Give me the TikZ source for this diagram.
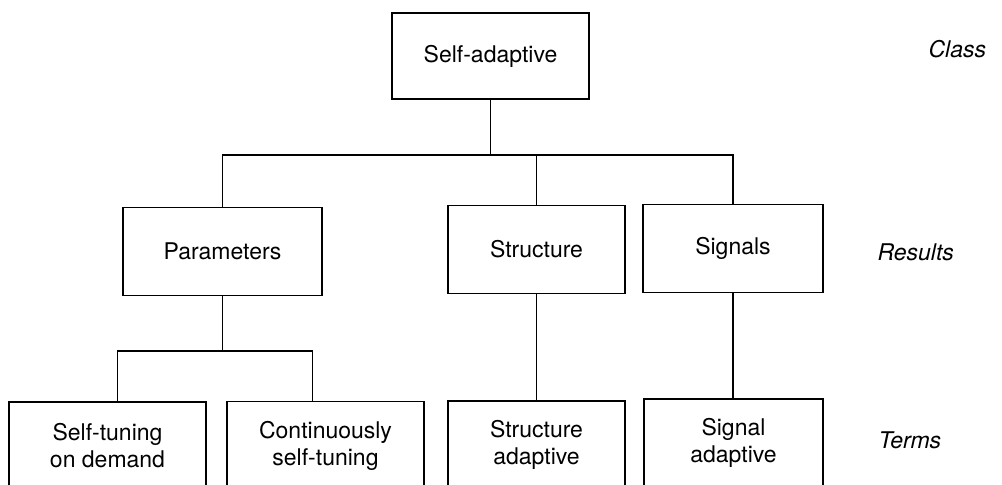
\documentclass[tikz,border=0pt]{standalone}
\usepackage{fontspec}
\setmainfont{TeX Gyre Heros}
\usetikzlibrary{positioning}

\begin{document}
\begin{tikzpicture}[x=0.5pt, y=-0.5pt, line width=0.9pt,
  block/.style = {draw, minimum height=44pt, inner sep=0pt, align=center,
                  font=\fontsize{11.5}{13.5}\selectfont},
  level/.style = {anchor=west, font=\fontsize{11.5}{13.5}\selectfont\itshape}]
\useasboundingbox (0,0) rectangle (1002,485);
\clip (0,0) rectangle (1002,485);
% class
\node[block, minimum width=98.5pt, minimum height=43pt] (self) at (490.5,56) {Self-adaptive};
% results
\node[block, minimum width=99.5pt] (par) at (222.5,251.5) {Parameters};
\node[block, minimum width=88.5pt] (str) at (536.5,249.5) {Structure};
\node[block, minimum width=90pt]   (sig) at (733,248.5)   {Signals};
% terms
\node[block, minimum width=98.5pt] (std) at (107.5,446)   {Self-tuning\\on demand};
\node[block, minimum width=98.5pt] (cst) at (325.5,445.5) {Continuously\\self-tuning};
\node[block, minimum width=88.5pt] (sta) at (536.5,445)   {Structure\\adaptive};
\node[block, minimum width=89.5pt] (sga) at (733.5,443)   {Signal\\adaptive};
% level names
\node[level] (class) at (921,49)  {Class};
\node[level] (res)   at (870,252) {Results};
\node[level] (terms) at (871,440) {Terms};
% tree lines
\coordinate (bus) at (0,155);
\coordinate (sub) at (0,351);
\draw (self.south) -- (self.south |- bus);
\draw (par.north) -- (par.north |- bus) -- (sig.north |- bus) -- (sig.north);
\draw (str.north) -- (str.north |- bus);
\draw (par.south) -- (par.south |- sub);
\draw ([xshift=5pt]std.north) -- ([xshift=5pt]std.north |- sub)
  -- ([xshift=-6.5pt]cst.north |- sub) -- ([xshift=-6.5pt]cst.north);
\draw (str.south) -- (str.south |- sta.north);
\draw (sig.south) -- (sig.south |- sga.north);
\end{tikzpicture}
\end{document}
